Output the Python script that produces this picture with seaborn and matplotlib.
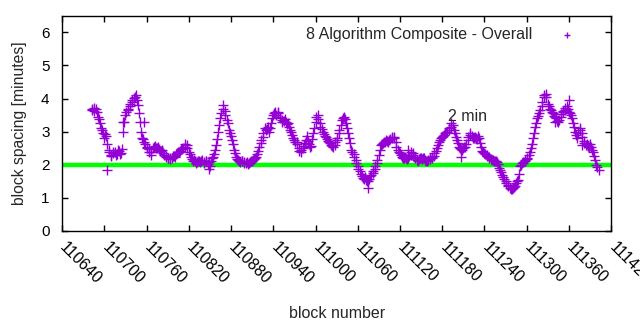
import matplotlib
matplotlib.use("Agg")
import matplotlib.pyplot as plt
import matplotlib.transforms as mtransforms
import seaborn as sns
import pandas as pd

first_block = 110682
block_step = 3
spacing = [
    3.65, 3.72, 3.68, 3.45, 3.25, 3.05, 2.80, 2.88, 2.45, 2.30,
    2.35, 2.38, 2.32, 2.42, 2.36, 3.00, 3.50, 3.65, 3.78, 3.90,
    4.02, 4.10, 3.82, 3.28, 2.80, 2.70, 2.55, 2.48, 2.30, 2.50,
    2.58, 2.52, 2.48, 2.42, 2.35, 2.28, 2.20, 2.18, 2.22, 2.28,
    2.32, 2.38, 2.42, 2.48, 2.55, 2.60, 2.40, 2.25, 2.12, 2.10,
    2.08, 2.12, 2.10, 2.08, 2.12, 2.02, 1.95, 2.20, 2.32, 2.60,
    3.00, 3.40, 3.80, 3.62, 3.35, 3.05, 2.86, 2.62, 2.35, 2.18,
    2.12, 2.10, 2.08, 2.05, 2.02, 2.08, 2.10, 2.18, 2.25, 2.42,
    2.65, 2.85, 3.10, 3.08, 3.00, 3.25, 3.50, 3.58, 3.55, 3.45,
    3.36, 3.32, 3.30, 3.25, 3.05, 2.90, 2.75, 2.70, 2.50, 2.38,
    2.50, 2.65, 2.86, 2.62, 2.58, 2.95, 3.30, 3.50, 3.25, 3.08,
    2.92, 2.85, 2.72, 2.65, 2.58, 2.60, 2.75, 2.95, 3.20, 3.42,
    3.38, 3.10, 2.80, 2.45, 2.32, 2.15, 1.95, 1.80, 1.65, 1.58,
    1.55, 1.52, 1.65, 1.75, 1.88, 2.05, 2.30, 2.60, 2.65, 2.70,
    2.72, 2.75, 2.80, 2.85, 2.70, 2.45, 2.35, 2.25, 2.22, 2.20,
    2.22, 2.30, 2.35, 2.25, 2.15, 2.18, 2.20, 2.22, 2.15, 2.12,
    2.18, 2.22, 2.28, 2.42, 2.60, 2.76, 2.85, 2.90, 2.98, 3.05,
    3.15, 3.20, 2.95, 2.76, 2.55, 2.48, 2.50, 2.55, 2.75, 2.90,
    2.88, 2.82, 2.80, 2.86, 2.65, 2.42, 2.35, 2.30, 2.25, 2.18,
    2.15, 2.12, 2.08, 1.90, 1.78, 1.62, 1.52, 1.38, 1.30, 1.28,
    1.32, 1.45, 1.55, 1.95, 2.05, 2.12, 2.18, 2.30, 2.50, 2.80,
    3.15, 3.40, 3.55, 3.78, 4.05, 4.15, 3.85, 3.70, 3.60, 3.48,
    3.40, 3.28, 3.45, 3.58, 3.65, 3.78, 3.60, 3.50, 3.26, 3.00,
    2.80, 3.10, 2.95, 2.72, 2.60, 2.58, 2.62, 2.45, 2.28, 2.00,
    1.85,
]
first_block_b = 110683
spacing_b = [
    3.70, 3.62, 3.58, 3.38, 3.12, 2.95, 2.92, 2.62, 2.40, 2.28,
    2.40, 2.30, 2.45, 2.33, 2.48, 3.30, 3.60, 3.70, 3.85, 3.95,
    4.06, 3.95, 3.55, 3.00, 2.78, 2.62, 2.50, 2.40, 2.38, 2.55,
    2.50, 2.55, 2.42, 2.45, 2.30, 2.25, 2.22, 2.20, 2.28, 2.25,
    2.36, 2.40, 2.48, 2.52, 2.62, 2.52, 2.32, 2.18, 2.15, 2.05,
    2.12, 2.08, 2.14, 2.05, 2.10, 2.08, 2.10, 2.25, 2.45, 2.78,
    3.20, 3.55, 3.70, 3.50, 3.25, 2.95, 2.75, 2.45, 2.25, 2.15,
    2.08, 2.12, 2.04, 2.08, 2.05, 2.12, 2.15, 2.20, 2.32, 2.55,
    2.75, 2.95, 3.05, 3.15, 3.10, 3.40, 3.55, 3.50, 3.60, 3.40,
    3.30, 3.38, 3.22, 3.15, 2.98, 2.80, 2.68, 2.62, 2.42, 2.45,
    2.58, 2.75, 2.72, 2.55, 2.78, 3.10, 3.45, 3.38, 3.15, 3.00,
    2.88, 2.78, 2.70, 2.60, 2.55, 2.68, 2.82, 3.05, 3.35, 3.45,
    3.25, 2.95, 2.65, 2.38, 2.25, 2.05, 1.88, 1.72, 1.60, 1.62,
    1.50, 1.58, 1.70, 1.80, 1.95, 2.15, 2.45, 2.62, 2.68, 2.75,
    2.68, 2.78, 2.85, 2.80, 2.55, 2.40, 2.30, 2.20, 2.25, 2.18,
    2.28, 2.38, 2.30, 2.20, 2.12, 2.22, 2.18, 2.20, 2.12, 2.16,
    2.20, 2.25, 2.35, 2.50, 2.68, 2.80, 2.88, 2.95, 3.00, 3.10,
    3.25, 3.05, 2.85, 2.65, 2.52, 2.45, 2.55, 2.62, 2.85, 2.95,
    2.80, 2.85, 2.78, 2.80, 2.55, 2.38, 2.32, 2.28, 2.20, 2.15,
    2.12, 2.10, 2.02, 1.85, 1.70, 1.58, 1.45, 1.35, 1.28, 1.30,
    1.35, 1.52, 1.72, 2.00, 2.08, 2.15, 2.22, 2.40, 2.62, 2.95,
    3.25, 3.48, 3.65, 3.90, 4.12, 4.05, 3.78, 3.65, 3.55, 3.45,
    3.32, 3.35, 3.52, 3.62, 3.72, 3.70, 3.55, 3.40, 3.15, 2.90,
    2.95, 3.05, 2.85, 2.65, 2.62, 2.55, 2.55, 2.38, 2.15, 1.92,
]
extra_blocks = [110704, 110756, 110848, 111074, 111131, 111206, 111360, 111378, 110726, 111340]
extra_spacing = [1.85, 3.30, 1.88, 1.30, 2.45, 2.25, 3.95, 2.60, 3.30, 3.30]

blocks = ([first_block + block_step * i for i in range(len(spacing))]
          + [first_block_b + block_step * i for i in range(len(spacing_b))]
          + extra_blocks)
values = spacing + spacing_b + extra_spacing
df = pd.DataFrame({"block": blocks, "spacing": values})

target_minutes = 2
series_label = "8 Algorithm Composite - Overall"
x_ticks = list(range(110640, 111421, 60))
y_ticks = [0, 1, 2, 3, 4, 5, 6]

sns.set_theme(style="white")
plt.rcParams["font.family"] = ["Liberation Sans", "DejaVu Sans"]

fig = plt.figure(figsize=(6.4, 3.3), dpi=100)
ax = fig.add_axes([0.097, 0.30, 0.858, 0.652])

ax.axhline(target_minutes, color="#00ff00", lw=3.2, zorder=1)
sns.scatterplot(data=df, x="block", y="spacing", marker="+", color="#9400d3",
                s=45, linewidth=1.0, ax=ax, label=series_label, zorder=3)

ax.set_xlim(110640, 111420)
ax.set_ylim(0, 6.5)
ax.set_xticks(x_ticks)
ax.set_yticks(y_ticks)
ax.set_xticklabels([str(t) for t in x_ticks], rotation=-45, ha="left", va="top",
                   rotation_mode="anchor", fontsize=11.5)
ax.set_yticklabels([str(t) for t in y_ticks], fontsize=11)
ax.tick_params(direction="in", length=4, width=1, top=True, right=True,
               bottom=True, left=True, colors="black", labelcolor="black")
ax.tick_params(axis="x", pad=6)
ax.tick_params(axis="y", pad=9)
offset = mtransforms.ScaledTranslation(4 / 72, 0, fig.dpi_scale_trans)
for lab in ax.get_xticklabels():
    lab.set_transform(lab.get_transform() + offset)
for s in ax.spines.values():
    s.set_color("black")
    s.set_linewidth(1)

ax.set_xlabel("block number", fontsize=11.5, labelpad=14)
ax.set_ylabel("block spacing [minutes]", fontsize=11.3, labelpad=10)
ax.text(111188, 3.45, "2 min", fontsize=11.5, ha="left", va="center")

leg = ax.legend(loc="upper right", frameon=False, markerfirst=False,
                fontsize=11.5, handletextpad=1.15, borderaxespad=0.3,
                markerscale=0.75, bbox_to_anchor=(0.969, 1.0))

fig.savefig("out.png", dpi=100)
